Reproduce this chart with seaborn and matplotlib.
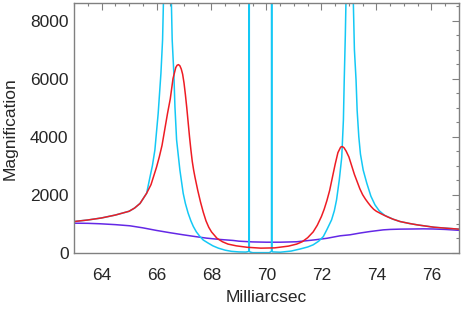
import matplotlib
matplotlib.use("Agg")
import matplotlib.pyplot as plt
from matplotlib.ticker import MultipleLocator
import seaborn as sns

# Finite-source (red) magnification curve
red_x = [63.0, 63.5, 64.0, 64.5, 65.0, 65.2, 65.4, 65.64, 65.8, 66.0, 66.1, 66.2, 66.3,
         66.4, 66.5, 66.6, 66.7, 66.75, 66.8, 66.85, 66.9, 66.95, 67.0, 67.05, 67.1,
         67.15, 67.2, 67.25, 67.3, 67.35, 67.4, 67.5, 67.6, 67.7, 67.8, 67.9, 68.0,
         68.2, 68.4, 68.6, 68.9, 69.3, 69.8, 70.3, 70.8, 71.1, 71.3, 71.5, 71.7,
         71.85, 72.0, 72.1, 72.2, 72.3, 72.4, 72.5, 72.6, 72.7, 72.76, 72.82, 72.9,
         73.0, 73.1, 73.2, 73.3, 73.4, 73.5, 73.6, 73.7, 73.8, 73.9, 74.0, 74.2,
         74.4, 74.6, 74.86, 75.2, 75.5, 75.8, 76.1, 76.5, 77.0]
red_y = [1077, 1130, 1200, 1300, 1430, 1540, 1700, 2050, 2350, 2950, 3300, 3700, 4250,
         4800, 5300, 6000, 6380, 6460, 6480, 6440, 6330, 6150, 5850, 5450, 5000,
         4500, 4000, 3550, 3150, 2850, 2600, 2150, 1750, 1400, 1100, 880, 720,
         500, 380, 300, 240, 190, 160, 170, 230, 300, 380, 520, 720,
         950, 1250, 1500, 1800, 2150, 2600, 3050, 3450, 3640, 3660, 3620, 3500,
         3300, 3000, 2700, 2450, 2200, 2000, 1850, 1720, 1600, 1500, 1430, 1330,
         1240, 1160, 1077, 1010, 960, 920, 880, 850, 815]

# Point-source (cyan) curve with the caustic spikes
cyan_x = [63.0, 63.5, 64.0, 64.5, 65.0, 65.2, 65.4, 65.64, 65.76, 65.85, 65.94, 66.06,
          66.16, 66.22, 66.26, 66.40, 66.52, 66.57, 66.63, 66.67, 66.73, 66.85, 66.97,
          67.05, 67.15, 67.25, 67.34, 67.45, 67.58, 67.7, 67.88, 68.05, 68.25, 68.5,
          68.73, 69.0, 69.25, 69.33, 69.364, 69.37, 69.376, 69.41, 69.5, 70.1, 70.15,
          70.184, 70.19, 70.196, 70.23, 70.5, 70.9, 71.22, 71.5, 71.7, 71.9, 72.07,
          72.2, 72.37, 72.47, 72.55, 72.65, 72.74, 72.8, 72.83, 72.87, 72.9, 73.03,
          73.14, 73.2, 73.26, 73.3, 73.36, 73.42, 73.52, 73.65, 73.8, 73.95, 74.1,
          74.3, 74.6, 74.86, 75.2, 75.5, 75.8, 76.1, 76.5, 77.0]
cyan_y = [1077, 1130, 1200, 1300, 1430, 1540, 1700, 2050, 2600, 3000, 3540, 4800,
          6180, 7330, 9000, 100000, 9500, 7330, 6180, 5030, 3890, 2850, 2050,
          1700, 1365, 1100, 905, 720, 560, 440, 334, 240, 160, 90,
          50, 30, 25, 40, 60, 100000, 50, 25, 5, 5, 30,
          55, 100000, 55, 30, 20, 60, 130, 200, 275, 400, 560,
          800, 1135, 1450, 1820, 2510, 3300, 4575, 5950, 7500, 9000, 100000,
          9500, 7000, 5950, 4900, 4000, 3400, 2850, 2400, 1950, 1650, 1450,
          1290, 1160, 1077, 1010, 960, 920, 880, 850, 815]

# Broad (purple) curve
purple_x = [63.0, 63.5, 63.94, 64.5, 65.03, 65.5, 66.0, 66.5, 66.97, 67.4, 67.82, 68.3,
            68.79, 69.0, 69.5, 70.0, 70.5, 71.1, 71.4, 71.8, 72.2, 72.68, 73.04, 73.4,
            73.77, 74.25, 74.5, 74.86, 75.34, 75.7, 76.07, 76.5, 77.0]
purple_y = [1020, 1015, 1000, 970, 930, 860, 770, 690, 620, 560, 505, 460,
            425, 400, 375, 365, 365, 380, 410, 450, 500, 585, 620, 680,
            733, 790, 805, 815, 820, 825, 820, 805, 775]

xticks = [64, 66, 68, 70, 72, 74, 76]
yticks = [0, 2000, 4000, 6000, 8000]

sns.set_style("white")
plt.rcParams['font.family'] = ['Liberation Sans', 'DejaVu Sans']

fig = plt.figure(figsize=(4.63, 3.09), dpi=100)
ax = fig.add_axes([0.160, 0.180, 0.831, 0.810])

sns.lineplot(x=purple_x, y=purple_y, color='#6428e6', lw=1.1, ax=ax, estimator=None, sort=False)
sns.lineplot(x=cyan_x, y=cyan_y, color='#14c8f5', lw=1.1, ax=ax, estimator=None, sort=False)
sns.lineplot(x=red_x, y=red_y, color='#ee1c24', lw=1.1, ax=ax, estimator=None, sort=False)

ax.set_xlim(63, 77)
ax.set_ylim(-20, 8600)
ax.set_xticks(xticks)
ax.set_yticks(yticks)
ax.xaxis.set_minor_locator(MultipleLocator(0.5))
ax.yaxis.set_minor_locator(MultipleLocator(500))

for side in ['left', 'right', 'top', 'bottom']:
    ax.spines[side].set_visible(True)
    ax.spines[side].set_color('#808080')
    ax.spines[side].set_linewidth(1.0)

ax.tick_params(which='both', direction='in', top=True, right=True, color='#808080', width=0.8)
ax.tick_params(which='major', length=5)
ax.tick_params(which='minor', length=2.5)
ax.tick_params(axis='x', which='major', labelsize=12.5, pad=10.5)
ax.tick_params(axis='y', which='major', labelsize=12.5, pad=4)

ax.set_xlabel('Milliarcsec', fontsize=12.5, labelpad=5)
ax.set_ylabel('Magnification', fontsize=12.5, labelpad=9)

fig.savefig('out.png', dpi=100)
